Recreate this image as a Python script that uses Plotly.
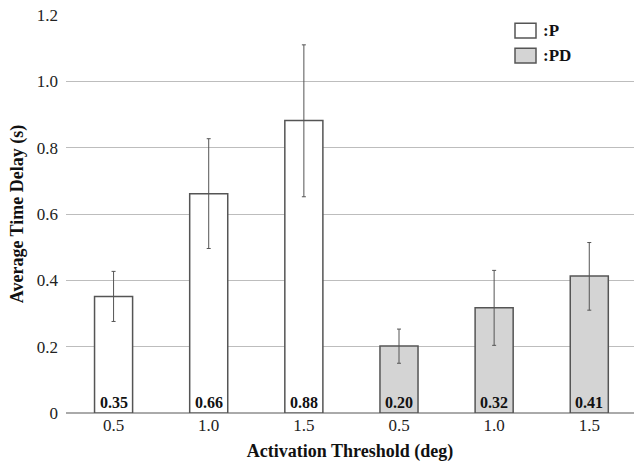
import plotly.graph_objects as go

tick_labels = ["0.5", "1.0", "1.5", "0.5", "1.0", "1.5"]
groups = ["P", "P", "P", "PD", "PD", "PD"]
values = [0.35, 0.66, 0.88, 0.20, 0.32, 0.41]
bar_heights = [0.351, 0.661, 0.882, 0.202, 0.317, 0.413]
err_plus = [0.076, 0.166, 0.228, 0.051, 0.113, 0.101]
err_minus = [0.075, 0.165, 0.230, 0.052, 0.113, 0.103]
value_labels = ["0.35", "0.66", "0.88", "0.20", "0.32", "0.41"]

colors = {"P": "#ffffff", "PD": "#d4d4d4"}
FONT = "Liberation Serif"

fig = go.Figure()
for g in ["P", "PD"]:
    idx = [i for i, gg in enumerate(groups) if gg == g]
    fig.add_trace(go.Bar(
        x=idx,
        y=[bar_heights[i] for i in idx],
        width=0.4,
        name=":" + g,
        marker=dict(color=colors[g], line=dict(color="#555555", width=1.5)),
        error_y=dict(type="data", symmetric=False,
                     array=[err_plus[i] for i in idx],
                     arrayminus=[err_minus[i] for i in idx],
                     color="#555555", thickness=1, width=2),
        showlegend=False,
    ))

for i, t in enumerate(value_labels):
    fig.add_annotation(x=i, y=0, text="<b>%s</b>" % t, showarrow=False,
                       yanchor="bottom", yshift=0,
                       font=dict(family=FONT, size=16, color="#111111"))

# legend (custom, in paper coordinates)
for k, g in enumerate(["P", "PD"]):
    y0 = 1.0 - (22.7 - 14.5 + k * 25) / 398.5
    y1 = 1.0 - (37.5 - 14.5 + k * 25) / 398.5
    x0 = (515 - 66) / 568
    x1 = (536 - 66) / 568
    fig.add_shape(type="rect", xref="paper", yref="paper", x0=x0, x1=x1, y0=y1, y1=y0,
                  fillcolor=colors[g], line=dict(color="#555555", width=1.5))
    fig.add_annotation(xref="paper", yref="paper", x=(541 - 66) / 568, y=(y0 + y1) / 2,
                       text="<b>:%s</b>" % g, showarrow=False, xanchor="left", yanchor="middle",
                       font=dict(family=FONT, size=17, color="#111111"))

fig.update_layout(
    width=634, height=466,
    margin=dict(l=66, r=0, t=14.5, b=53),
    paper_bgcolor="white", plot_bgcolor="white",
    bargap=0.6,
    font=dict(family=FONT, size=17, color="#222222"),
    showlegend=False,
)
fig.update_xaxes(
    range=[-0.5, 5.47], tickmode="array", tickvals=list(range(6)), ticktext=tick_labels,
    showgrid=False, showline=False, ticks="", zeroline=False,
    title=dict(text="<b>Activation Threshold (deg)</b>", font=dict(size=18, family=FONT, color="#111111"), standoff=10),
    automargin=False,
)
fig.update_yaxes(
    range=[0, 1.2], tickmode="array", tickvals=[0, 0.2, 0.4, 0.6, 0.8, 1.0, 1.2],
    ticktext=["0", "0.2", "0.4", "0.6", "0.8", "1.0", "1.2"],
    showgrid=True, gridcolor="#bdbdbd", gridwidth=1.2,
    zeroline=True, zerolinecolor="#aaaaaa", zerolinewidth=1.5,
    showline=False, ticks="", ticklabelstandoff=7,
    title=dict(text="<b>Average Time Delay (s)</b>", font=dict(size=18, family=FONT, color="#111111"), standoff=8),
    automargin=False,
)

fig.write_html("out.html")
